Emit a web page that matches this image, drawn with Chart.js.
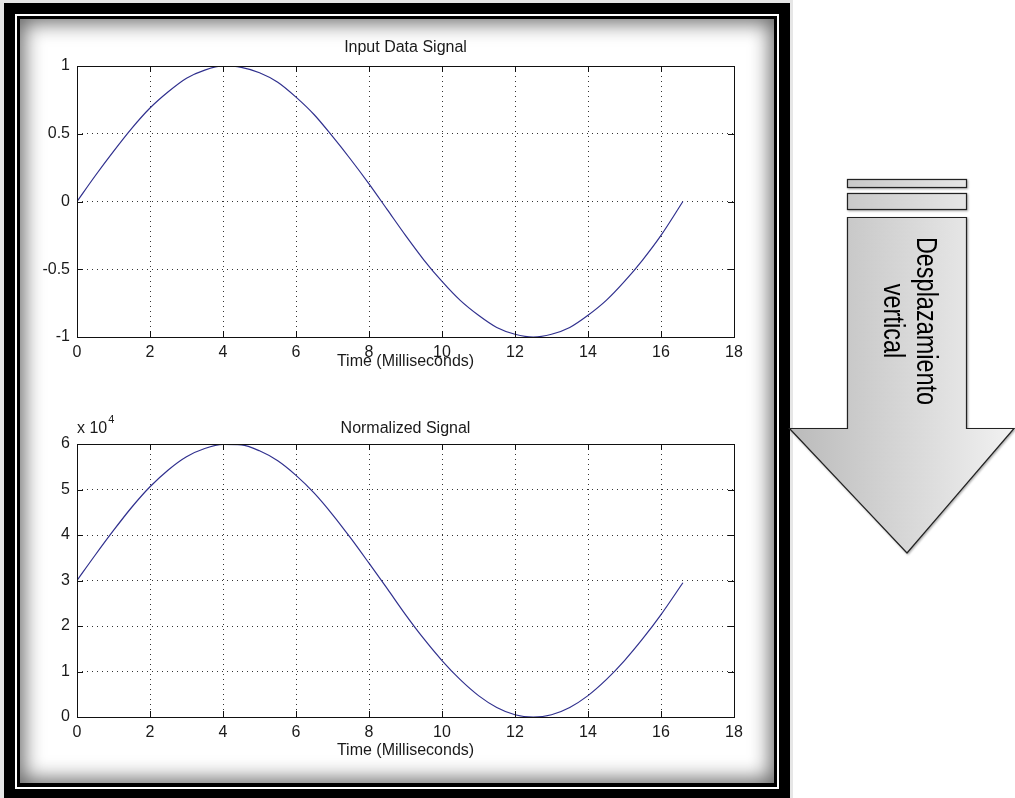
<!DOCTYPE html>
<html lang="en">
<head>
<meta charset="utf-8">
<script src="https://cdn.jsdelivr.net/npm/chart.js@4.4.1/dist/chart.umd.min.js"></script>
<title>Input Data Signal / Normalized Signal</title>
<style>
  body { margin: 0; width: 1015px; height: 798px; overflow: hidden; position: relative; background: #fff;
         font-family: "Liberation Sans", Arial, sans-serif; }
  .edge { position: absolute; left: 0; top: 0; width: 793px; height: 798px; background: #e6e6e6; }
  .frame-outer { position: absolute; left: 4px; top: 3px; width: 786px; height: 800px; background: #000; }
  .frame-line { position: absolute; left: 15px; top: 14px; width: 760px; height: 771px; border: 2px solid #fff; background: #000; }
  .frame-inner { position: absolute; left: 20px; top: 19px; width: 754px; height: 764px; background: #fff;
                 box-shadow: inset 0 0 20px 4px rgba(0,0,0,0.6); }
  canvas { position: absolute; left: 0; }
  #top-chart { top: 0; }
  #bottom-chart { top: 395px; }
  .arrow { position: absolute; left: 0; top: 0; }
  .arrow-text { position: absolute; left: 810px; top: 296px; width: 200px; text-align: center;
                font-size: 23px; line-height: 25px; color: #000;
                transform: rotate(90deg) scale(1.02, 1.3); transform-origin: 100px 25px; }
</style>
</head>
<body>
  <div class="edge"></div>
  <div class="frame-outer"></div>
  <div class="frame-line"></div>
  <div class="frame-inner"></div>
  <canvas id="top-chart" width="785" height="395"></canvas>
  <canvas id="bottom-chart" width="785" height="403"></canvas>

  <svg class="arrow" width="1015" height="798">
    <defs>
      <linearGradient id="arrow-fill" gradientUnits="userSpaceOnUse" x1="789" y1="0" x2="1015" y2="0">
        <stop offset="0" stop-color="#bababa"/>
        <stop offset="1" stop-color="#f2f2f2"/>
      </linearGradient>
      <filter id="arrow-shadow" x="-10%" y="-10%" width="120%" height="120%">
        <feDropShadow dx="1" dy="1" stdDeviation="1.2" flood-color="#000" flood-opacity="0.35"/>
      </filter>
    </defs>
    <g fill="url(#arrow-fill)" stroke="#222" stroke-width="1.2" filter="url(#arrow-shadow)">
      <rect x="847.5" y="179.5" width="119" height="8"/>
      <rect x="847.5" y="193.5" width="119" height="16"/>
      <polygon points="847.5,217.5 966.5,217.5 966.5,428.5 1014,428.5 907,553 789.5,428.5 847.5,428.5"/>
    </g>
  </svg>
  <div class="arrow-text">Desplazamiento<br>vertical</div>

<script>
// time axis (ms) and the two traces
const timeMs = [0, 0.5, 1, 1.5, 2, 2.5, 3, 3.5, 4, 4.5, 5, 5.5, 6, 6.5, 7, 7.5, 8, 8.5,
                9, 9.5, 10, 10.5, 11, 11.5, 12, 12.5, 13, 13.5, 14, 14.5, 15, 15.5, 16, 16.6];
const inputSignal = [0, 0.19, 0.37, 0.54, 0.69, 0.81, 0.91, 0.97, 1.0, 0.99, 0.95, 0.88, 0.77, 0.64,
                     0.48, 0.31, 0.13, -0.06, -0.25, -0.43, -0.59, -0.73, -0.84, -0.93, -0.98, -1.0,
                     -0.98, -0.93, -0.84, -0.73, -0.59, -0.43, -0.25, 0];
const normalizedSignal = [30000, 35600, 41000, 46100, 50600, 54300, 57200, 59000, 59900, 59800, 58500,
                          56300, 53100, 49200, 44500, 39300, 33800, 28200, 22500, 17200, 12400, 8200,
                          4700, 2100, 500, 0, 500, 2100, 4700, 8200, 12400, 17200, 22500, 29500];
const xTicks = { min: 0, max: 18, step: 2 };
const topTicks = { min: -1, max: 1, step: 0.5 };
const bottomTicks = { min: 0, max: 60000, step: 10000 };

const lineColor = '#30308e';
const textColor = '#1a1a1a';
const fontFamily = '"Liberation Sans", Arial, sans-serif';
const tickFont = { family: fontFamily, size: 16 };

// MATLAB style box with inward ticks on all four sides
const matlabBox = {
    id: 'matlabBox',
    afterDatasetsDraw(chart) {
        const { ctx, chartArea: a, scales } = chart;
        ctx.save();
        ctx.strokeStyle = '#111';
        ctx.lineWidth = 1;
        ctx.setLineDash([]);
        ctx.strokeRect(Math.round(a.left) + 0.5, Math.round(a.top) + 0.5,
                       Math.round(a.right - a.left), Math.round(a.bottom - a.top));
        const len = 6;
        ctx.beginPath();
        scales.x.ticks.forEach(t => {
            const px = Math.round(scales.x.getPixelForValue(t.value)) + 0.5;
            ctx.moveTo(px, a.bottom); ctx.lineTo(px, a.bottom - len);
            ctx.moveTo(px, a.top); ctx.lineTo(px, a.top + len);
        });
        scales.y.ticks.forEach(t => {
            const py = Math.round(scales.y.getPixelForValue(t.value)) + 0.5;
            ctx.moveTo(a.left, py); ctx.lineTo(a.left + len, py);
            ctx.moveTo(a.right, py); ctx.lineTo(a.right - len, py);
        });
        ctx.stroke();
        ctx.restore();
    }
};

// "x 10^4" exponent label over the y axis
const exponentLabel = {
    id: 'exponentLabel',
    afterDraw(chart) {
        const { ctx, chartArea: a } = chart;
        ctx.save();
        ctx.fillStyle = textColor;
        ctx.textBaseline = 'alphabetic';
        ctx.font = '16px ' + fontFamily;
        ctx.fillText('x 10', a.left, a.top - 11);
        const w = ctx.measureText('x 10').width;
        ctx.font = '11px ' + fontFamily;
        ctx.fillText('4', a.left + w + 1, a.top - 21);
        ctx.restore();
    }
};

function makeConfig(values, yTicks, title, titlePad, xTitlePad, xHeight, yFormat, extraPlugins) {
    return {
        type: 'line',
        data: {
            datasets: [{
                data: timeMs.map((t, i) => ({ x: t, y: values[i] })),
                borderColor: lineColor,
                borderWidth: 1.2,
                pointRadius: 0,
                cubicInterpolationMode: 'monotone',
                fill: false,
            }]
        },
        options: {
            responsive: false,
            animation: false,
            devicePixelRatio: 1,
            layout: { padding: { left: 0, right: 51, top: 0, bottom: 0 } },
            plugins: {
                legend: { display: false },
                tooltip: { enabled: false },
                title: {
                    display: true,
                    text: title,
                    fullSize: false,
                    color: textColor,
                    font: { family: fontFamily, size: 16, weight: 'normal' },
                    padding: titlePad,
                },
            },
            scales: {
                x: {
                    type: 'linear',
                    min: xTicks.min,
                    max: xTicks.max,
                    ticks: { stepSize: xTicks.step, color: textColor, font: tickFont, padding: 6, maxRotation: 0 },
                    grid: { drawTicks: false, color: '#333', lineWidth: 1 },
                    border: { display: false, dash: [1, 4] },
                    title: {
                        display: true,
                        text: 'Time (Milliseconds)',
                        color: textColor,
                        font: { family: fontFamily, size: 16 },
                        padding: { top: 0, bottom: xTitlePad },
                    },
                    afterFit: scale => { scale.height = xHeight; },
                },
                y: {
                    type: 'linear',
                    min: yTicks.min,
                    max: yTicks.max,
                    ticks: { stepSize: yTicks.step, color: textColor, font: tickFont, padding: 7, callback: yFormat },
                    grid: { drawTicks: false, color: '#333', lineWidth: 1 },
                    border: { display: false, dash: [1, 4] },
                    afterFit: scale => { scale.width = 77; },
                },
            },
        },
        plugins: [matlabBox].concat(extraPlugins),
    };
}

var topChart = new Chart(document.getElementById('top-chart'),
    makeConfig(inputSignal, topTicks, 'Input Data Signal', { top: 38, bottom: 8.8 }, 24, 58,
               v => String(v), []));

var bottomChart = new Chart(document.getElementById('bottom-chart'),
    makeConfig(normalizedSignal, bottomTicks, 'Normalized Signal', { top: 24, bottom: 5.8 }, 38, 81,
               v => String(v / 10000), [exponentLabel]));
</script>
</body>
</html>
